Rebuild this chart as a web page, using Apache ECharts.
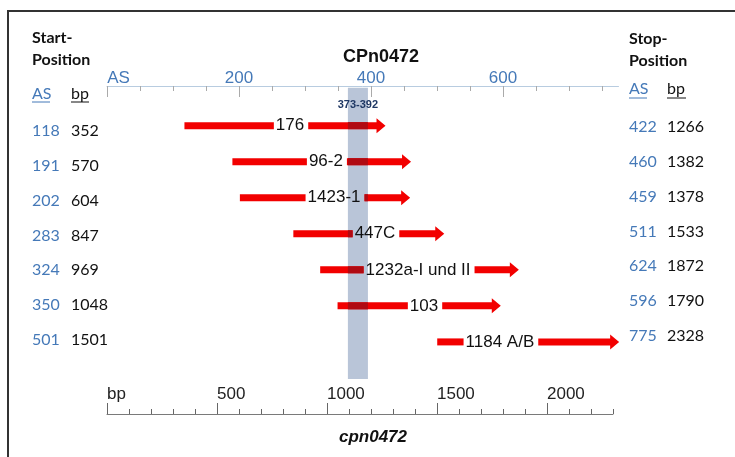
<!DOCTYPE html>
<html>
<head>
<meta charset="utf-8">
<script src="https://cdn.jsdelivr.net/npm/echarts@6/dist/echarts.min.js"></script>
<style>
  html, body { margin: 0; padding: 0; background: #fff; }
  #chart { width: 735px; height: 457px; }
</style>
</head>
<body>
<div id="chart"></div>
<script>
// Primer pairs on cpn0472 (AS = amino acid position, bp = base pair)
const names = ['176', '96-2', '1423-1', '447C', '1232a-I und II', '103', '1184 A/B'];
const startAS = [118, 191, 202, 283, 324, 350, 501];
const startBp = [352, 570, 604, 847, 969, 1048, 1501];
const stopAS = [422, 460, 459, 511, 624, 596, 775];
const stopBp = [1266, 1382, 1378, 1533, 1872, 1790, 2328];
const labelBp = [832, 995, 1032, 1218, 1414, 1441, 1786];

const bpTicks = [0, 500, 1000, 1500, 2000];
const bpMinorTicks = [0, 100, 200, 300, 400, 500, 600, 700, 800, 900, 1000, 1100, 1200,
  1300, 1400, 1500, 1600, 1700, 1800, 1900, 2000, 2100, 2200, 2300];
const asTicks = [0, 200, 400, 600];
const asMinorTicks = [0, 50, 100, 150, 200, 250, 300, 350, 400, 450, 500, 550, 600, 650, 700, 750];

const bandBp = [1095, 1186];
const bandLabel = '373-392';

const BLUE = '#4579b8';
const ARIAL = '"Liberation Sans", Arial, sans-serif';
const CAL = 'Lato, "Open Sans", sans-serif';
const LABEL_FONT = '17px ' + ARIAL;

// all plot grids share the same box, extra ones only carry axes
const plotBox = () => ({ left: 107, top: 86, width: 506, height: 328, outerBoundsMode: 'none' });
const asBox = () => ({ left: 107, top: 86, width: 511.5, height: 328, outerBoundsMode: 'none' });

const measureCtx = document.createElement('canvas').getContext('2d');
function textWidth(text, font) {
  measureCtx.font = font;
  return measureCtx.measureText(text).width;
}

const chart = echarts.init(document.getElementById('chart'));

function overlapRect(x0, x1, bx0, bx1, y, sw) {
  const l = Math.max(x0, bx0), r = Math.min(x1, bx1);
  if (r <= l) return null;
  return { type: 'rect', shape: { x: l, y: y - sw, width: r - l, height: sw * 2 }, style: { fill: '#b00a12' } };
}

function arrowItem(params, api) {
  const i = params.dataIndex;
  const row = api.value(3);
  const a = api.coord([api.value(0), row]);
  const b = api.coord([api.value(1), row]);
  const c = api.coord([api.value(2), row]);
  const bx0 = api.coord([bandBp[0], row])[0];
  const bx1 = api.coord([bandBp[1], row])[0];
  const y = a[1];
  const hl = 9, hw = 7.5, sw = 3.5;
  const w = textWidth(names[i], LABEL_FONT);
  const gl = c[0] - w / 2 - 2;
  const gr = c[0] + w / 2 + 4;
  const children = [
    { type: 'rect', shape: { x: a[0], y: y - sw, width: gl - a[0], height: sw * 2 }, style: { fill: '#f20000' } },
    {
      type: 'polygon',
      shape: {
        points: [[gr, y - sw], [b[0] - hl, y - sw], [b[0] - hl, y - hw], [b[0], y],
          [b[0] - hl, y + hw], [b[0] - hl, y + sw], [gr, y + sw]]
      },
      style: { fill: '#f20000' }
    }
  ];
  [overlapRect(a[0], gl, bx0, bx1, y, sw), overlapRect(gr, b[0] - hl, bx0, bx1, y, sw)]
    .forEach((r) => { if (r) children.push(r); });
  children.push({
    type: 'text',
    x: c[0],
    y: y,
    style: { text: names[i], font: LABEL_FONT, fill: '#111', align: 'center', verticalAlign: 'middle' }
  });
  return { type: 'group', children };
}

function bandItem(params, api) {
  const p0 = api.coord([api.value(0), -0.05]);
  const p1 = api.coord([api.value(1), 8.03]);
  return {
    type: 'group',
    children: [
      {
        type: 'rect',
        shape: { x: p0[0], y: p0[1], width: p1[0] - p0[0], height: p1[1] - p0[1] },
        style: { fill: '#b9c5d8' }
      },
      {
        type: 'text',
        x: (p0[0] + p1[0]) / 2,
        y: p0[1] + 17,
        style: {
          text: bandLabel,
          font: 'bold 11px ' + ARIAL,
          fill: '#1f3864',
          align: 'center',
          verticalAlign: 'middle'
        }
      }
    ]
  };
}

const hiddenX = (i) => ({ gridIndex: i, type: 'value', show: false });
const hiddenY = (i) => ({ gridIndex: i, type: 'value', min: 0, max: 1, show: false });

chart.setOption({
  animation: false,
  backgroundColor: '#fff',
  grid: [
    plotBox(),
    plotBox(),
    asBox(),
    asBox(),
    { left: 107, top: 113.6, width: 506, height: 243.6, outerBoundsMode: 'none' },
    { left: 107, top: 109.6, width: 506, height: 243.6, outerBoundsMode: 'none' }
  ],
  xAxis: [
    {
      gridIndex: 0, type: 'value', position: 'bottom', min: 0, max: 2300,
      splitLine: { show: false },
      axisLine: { show: true, onZero: false, lineStyle: { color: '#7a7a7a', width: 1 } },
      axisTick: { show: true, inside: true, length: 5, customValues: bpMinorTicks, lineStyle: { color: '#666' } },
      axisLabel: { show: false }
    },
    {
      gridIndex: 1, type: 'value', position: 'bottom', min: 0, max: 2300,
      splitLine: { show: false },
      axisLine: { show: false, onZero: false },
      axisTick: { show: true, inside: true, length: 11, customValues: bpTicks, lineStyle: { color: '#666' } },
      axisLabel: {
        inside: true, align: 'left', margin: 11, customValues: bpTicks,
        color: '#222', fontSize: 17, fontFamily: ARIAL,
        formatter: (v) => (v === 0 ? 'bp' : String(v))
      }
    },
    {
      gridIndex: 2, type: 'value', position: 'top', min: 0, max: 775,
      splitLine: { show: false },
      axisLine: { show: true, onZero: false, lineStyle: { color: '#b8cce0', width: 1 } },
      axisTick: { show: true, inside: true, length: 5, customValues: asMinorTicks, lineStyle: { color: '#aaa' } },
      axisLabel: { show: false }
    },
    {
      gridIndex: 3, type: 'value', position: 'top', min: 0, max: 775,
      splitLine: { show: false },
      axisLine: { show: false, onZero: false },
      axisTick: { show: true, inside: true, length: 11, customValues: asTicks, lineStyle: { color: '#aaa' } },
      axisLabel: {
        margin: -1, customValues: asTicks, color: BLUE, fontSize: 17, fontFamily: ARIAL,
        formatter: (v) => (v === 0 ? '{as|AS}' : String(v)),
        rich: { as: { color: BLUE, fontSize: 17, fontFamily: ARIAL, padding: [0, 0, 0, 23] } }
      }
    },
    hiddenX(4),
    hiddenX(5)
  ],
  yAxis: [
    { gridIndex: 0, type: 'value', min: -0.1, max: 9, inverse: true, show: false },
    hiddenY(1),
    hiddenY(2),
    hiddenY(3),
    {
      gridIndex: 4, type: 'category', position: 'left', inverse: true, data: names,
      axisLine: { show: false }, axisTick: { show: false },
      axisLabel: {
        interval: 0, align: 'left', margin: 75,
        formatter: (v, i) => `{a|${startAS[i]}}{b|${startBp[i]}}`,
        rich: {
          a: { width: 39, color: BLUE, fontSize: 16, fontFamily: CAL },
          b: { color: '#111', fontSize: 16, fontFamily: CAL }
        }
      }
    },
    {
      gridIndex: 5, type: 'category', position: 'right', inverse: true, data: names,
      axisLine: { show: false }, axisTick: { show: false },
      axisLabel: {
        interval: 0, align: 'left', margin: 16,
        formatter: (v, i) => `{a|${stopAS[i]}}{b|${stopBp[i]}}`,
        rich: {
          a: { width: 38, color: BLUE, fontSize: 16, fontFamily: CAL },
          b: { color: '#111', fontSize: 16, fontFamily: CAL }
        }
      }
    }
  ],
  series: [
    {
      type: 'custom',
      xAxisIndex: 0,
      yAxisIndex: 0,
      z: 1,
      renderItem: bandItem,
      encode: { x: [0, 1] },
      data: [[bandBp[0], bandBp[1]]]
    },
    {
      type: 'custom',
      xAxisIndex: 0,
      yAxisIndex: 0,
      z: 2,
      renderItem: arrowItem,
      encode: { x: [0, 1, 2], y: 3 },
      data: names.map((n, i) => [startBp[i], stopBp[i], labelBp[i], i + 1])
    }
  ],
  graphic: [
    { type: 'polyline', shape: { points: [[8, 457], [8, 11], [735, 11]] }, style: { stroke: '#333', lineWidth: 2, fill: null } },
    { type: 'text', x: 381, y: 57, style: { text: 'CPn0472', font: 'bold 18px ' + ARIAL, fill: '#111', align: 'center', verticalAlign: 'middle' } },
    { type: 'text', x: 373, y: 437, style: { text: 'cpn0472', font: 'italic bold 17px ' + ARIAL, fill: '#111', align: 'center', verticalAlign: 'middle' } },
    { type: 'text', x: 32, y: 38, style: { text: 'Start-', font: 'bold 16px ' + CAL, fill: '#111', verticalAlign: 'middle' } },
    { type: 'text', x: 32, y: 60, style: { text: 'Position', font: 'bold 16px ' + CAL, fill: '#111', verticalAlign: 'middle' } },
    { type: 'text', x: 32, y: 94, style: { text: 'AS', font: '16px ' + CAL, fill: BLUE, verticalAlign: 'middle' } },
    { type: 'line', shape: { x1: 32, y1: 102, x2: 50, y2: 102 }, style: { stroke: BLUE, lineWidth: 1 } },
    { type: 'text', x: 71, y: 94, style: { text: 'bp', font: '16px ' + CAL, fill: '#111', verticalAlign: 'middle' } },
    { type: 'line', shape: { x1: 71, y1: 102, x2: 89, y2: 102 }, style: { stroke: '#111', lineWidth: 1 } },
    { type: 'text', x: 629, y: 39, style: { text: 'Stop-', font: 'bold 16px ' + CAL, fill: '#111', verticalAlign: 'middle' } },
    { type: 'text', x: 629, y: 61, style: { text: 'Position', font: 'bold 16px ' + CAL, fill: '#111', verticalAlign: 'middle' } },
    { type: 'text', x: 629, y: 89, style: { text: 'AS', font: '16px ' + CAL, fill: BLUE, verticalAlign: 'middle' } },
    { type: 'line', shape: { x1: 629, y1: 98, x2: 647, y2: 98 }, style: { stroke: BLUE, lineWidth: 1 } },
    { type: 'text', x: 667, y: 89, style: { text: 'bp', font: '16px ' + CAL, fill: '#111', verticalAlign: 'middle' } },
    { type: 'line', shape: { x1: 667, y1: 98, x2: 686, y2: 98 }, style: { stroke: '#111', lineWidth: 1 } }
  ]
});
</script>
</body>
</html>
